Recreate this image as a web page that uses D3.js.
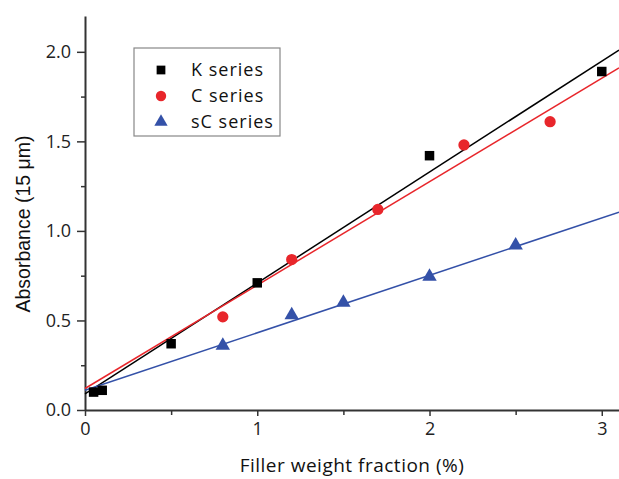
<!DOCTYPE html>
<html>
<head>
<meta charset="utf-8">
<script src="https://cdn.jsdelivr.net/npm/d3@7"></script>
<style>
  body { margin: 0; background: #fff; }
  svg { display: block; }
  .tick text { font-family: "Open Sans", sans-serif; font-size: 18px; fill: #222; }
</style>
</head>
<body>
<svg></svg>
<script>
const width = 619;
const height = 479;

// measured data
const kX = [0.05, 0.1, 0.5, 1.0, 2.0, 3.0];
const kY = [0.10, 0.11, 0.37, 0.71, 1.42, 1.89];
const cX = [0.8, 1.2, 1.7, 2.2, 2.7];
const cY = [0.52, 0.84, 1.12, 1.48, 1.61];
const scX = [0.8, 1.2, 1.5, 2.0, 2.5];
const scY = [0.36, 0.53, 0.60, 0.745, 0.92];

// fitted lines, end points
const kFit = [[0, 0.09], [3.1, 2.01]];
const cFit = [[0, 0.12], [3.1, 1.91]];
const scFit = [[0, 0.11], [3.1, 1.105]];

const xTicks = [0, 1, 2, 3];
const xMinor = [0.5, 1.5, 2.5];
const yTicks = [0, 0.5, 1.0, 1.5, 2.0];
const yMinor = [0.25, 0.75, 1.25, 1.75];

const series = [
    { name: 'K series', xs: kX, ys: kY, fit: kFit, color: '#000000', shape: d3.symbolSquare, size: 90 },
    { name: 'C series', xs: cX, ys: cY, fit: cFit, color: '#e8262b', shape: d3.symbolCircle, size: 100 },
    { name: 'sC series', xs: scX, ys: scY, fit: scFit, color: '#3451a8', shape: d3.symbolTriangle, size: 90 },
];

const renderChart = () => {
    const svg = d3.select('svg')
        .attr('width', width)
        .attr('height', height);

    const x = d3.scaleLinear().domain([0, 3.1]).range([85, 619]);
    const y = d3.scaleLinear().domain([0, 2.2]).range([410, 16]);

    // minor ticks
    svg.append('g')
        .attr('transform', `translate(0,${y(0)})`)
        .call(d3.axisBottom(x).tickValues(xMinor).tickSize(5).tickFormat(''))
        .call(g => g.select('.domain').remove())
        .selectAll('line').attr('stroke', '#333').attr('stroke-width', 1.5);
    svg.append('g')
        .attr('transform', `translate(${x(0)},0)`)
        .call(d3.axisLeft(y).tickValues(yMinor).tickSize(4).tickFormat(''))
        .call(g => g.select('.domain').remove())
        .selectAll('line').attr('stroke', '#333').attr('stroke-width', 1.5);

    // major axes
    const xAxis = svg.append('g')
        .attr('transform', `translate(0,${y(0)})`)
        .call(d3.axisBottom(x).tickValues(xTicks).tickSize(6).tickSizeOuter(0).tickPadding(6).tickFormat(d3.format('d')));
    const yAxis = svg.append('g')
        .attr('transform', `translate(${x(0)},0)`)
        .call(d3.axisLeft(y).tickValues(yTicks).tickSize(8).tickSizeOuter(0).tickPadding(6).tickFormat(d3.format('.1f')));
    [xAxis, yAxis].forEach(g => {
        g.select('.domain').attr('stroke', '#333').attr('stroke-width', 2);
        g.selectAll('.tick line').attr('stroke', '#333').attr('stroke-width', 1.5);
    });

    // fit lines
    const line = d3.line().x(d => x(d[0])).y(d => y(d[1]));
    svg.append('g')
        .selectAll('path')
        .data(series)
        .enter().append('path')
        .attr('d', d => line(d.fit))
        .attr('fill', 'none')
        .attr('stroke', d => d.color)
        .attr('stroke-width', 1.5);

    // points
    series.forEach(s => {
        svg.append('g')
            .selectAll('path')
            .data(s.xs.map((v, i) => [v, s.ys[i]]))
            .enter().append('path')
            .attr('transform', d => `translate(${x(d[0])},${y(d[1])})`)
            .attr('d', d3.symbol().type(s.shape).size(s.size))
            .attr('fill', s.color);
    });

    // legend
    const legend = svg.append('g').attr('transform', 'translate(134,48)');
    legend.append('rect')
        .attr('width', 146)
        .attr('height', 88)
        .attr('fill', '#fff')
        .attr('stroke', '#888')
        .attr('stroke-width', 1.2);
    const item = legend.selectAll('.item')
        .data(series)
        .enter().append('g')
        .attr('transform', (d, i) => `translate(27,${22 + i * 26})`);
    item.append('path')
        .attr('d', d => d3.symbol().type(d.shape).size(d.size * 0.85)())
        .attr('fill', d => d.color);
    item.append('text')
        .attr('x', 30)
        .attr('dy', '0.35em')
        .style('font-family', '"Open Sans", sans-serif')
        .style('font-size', '18px')
        .style('letter-spacing', '1px')
        .attr('fill', '#111')
        .text(d => d.name);

    // axis titles
    svg.append('text')
        .attr('x', 352)
        .attr('y', 472)
        .attr('text-anchor', 'middle')
        .style('font-family', '"Open Sans", sans-serif')
        .style('font-size', '19px')
        .style('letter-spacing', '0.5px')
        .attr('fill', '#111')
        .text('Filler weight fraction (%)');

    svg.append('text')
        .attr('transform', 'translate(30,224) rotate(-90)')
        .attr('text-anchor', 'middle')
        .style('font-family', '"Liberation Sans", Arial, sans-serif')
        .style('font-size', '19.5px')
        .attr('fill', '#111')
        .text('Absorbance (15 μm)');
};

document.addEventListener('DOMContentLoaded', () => {
    renderChart();
});
</script>
</body>
</html>
